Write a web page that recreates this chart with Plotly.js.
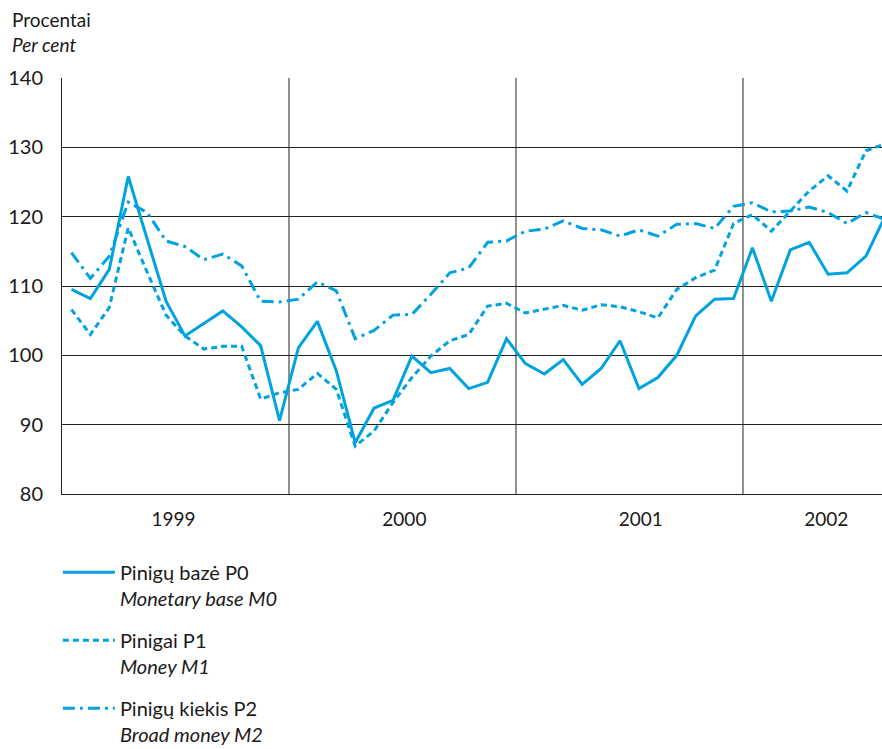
<!DOCTYPE html>
<html>
<head>
<meta charset="utf-8">
<script src="https://cdn.plot.ly/plotly-3.0.1.min.js"></script>
<style>html,body{margin:0;padding:0;background:#fff;}#chart{width:882px;height:749px;}</style>
</head>
<body>
<div id="chart"></div>
<script>
// Months Jan 1999 .. Aug 2002 (index of month, plotted at month centre)
const months = ['1999-01','1999-02','1999-03','1999-04','1999-05','1999-06','1999-07','1999-08','1999-09','1999-10','1999-11','1999-12',
  '2000-01','2000-02','2000-03','2000-04','2000-05','2000-06','2000-07','2000-08','2000-09','2000-10','2000-11','2000-12',
  '2001-01','2001-02','2001-03','2001-04','2001-05','2001-06','2001-07','2001-08','2001-09','2001-10','2001-11','2001-12',
  '2002-01','2002-02','2002-03','2002-04','2002-05','2002-06','2002-07','2002-08'];

const p0 = [109.5,108.2,112.4,125.8,116.8,107.8,102.8,104.6,106.4,104.1,101.4,90.6,
  101.1,104.9,97.8,87.4,92.4,93.5,99.9,97.5,98.1,95.2,96.1,102.4,
  98.8,97.3,99.4,95.8,98.1,102.1,95.2,96.8,100.0,105.7,108.1,108.2,
  115.5,107.8,115.2,116.3,111.7,111.9,114.3,120.0];

const p1 = [106.6,103.0,106.9,118.4,112.0,105.8,102.8,100.9,101.3,101.3,93.7,94.6,
  95.1,97.4,95.1,86.9,89.1,93.2,96.8,99.9,102.1,103.0,107.1,107.5,
  106.1,106.7,107.2,106.5,107.3,107.0,106.3,105.4,109.5,111.2,112.3,119.0,
  120.3,117.9,120.8,123.7,125.9,123.7,129.5,130.5];

const p2 = [114.8,111.1,114.3,122.1,120.6,116.5,115.7,113.8,114.6,112.9,107.8,107.7,
  108.1,110.6,109.3,102.4,103.6,105.8,105.9,108.8,111.9,112.6,116.3,116.5,
  117.9,118.2,119.4,118.3,118.1,117.2,118.1,117.2,118.9,119.0,118.3,121.5,
  122.0,120.7,120.8,121.4,120.6,119.0,120.6,119.6];

const yearLabels = ['1999','2000','2001','2002'];
const yearLabelPos = [5.9, 18.1, 30.6, 40.4];
const yearBoundaries = [12, 24, 36];

const seriesNames = [
  'Pinigų bazė P0<br><i>Monetary base M0</i>',
  'Pinigai P1<br><i>Money M1</i>',
  'Pinigų kiekis P2<br><i>Broad money M2</i>'
];

const xs = months.map((m, i) => i + 0.5);
const color = '#00a3e0';
const FONT = 'Lato, "Open Sans", sans-serif';

const traces = [
  {x: xs, y: p0, name: seriesNames[0], legendgroup: 'a', mode: 'lines', line: {color: color, width: 3}},
  {x: xs, y: p1, name: seriesNames[1], legendgroup: 'b', mode: 'lines', line: {color: color, width: 3, dash: '6px,4px'}},
  {x: xs, y: p2, name: seriesNames[2], legendgroup: 'c', mode: 'lines', line: {color: color, width: 3, dash: '12px,5px,3px,5px'}}
];

const layout = {
  width: 882, height: 749,
  margin: {l: 62, r: 0, t: 78, b: 255, autoexpand: false},
  paper_bgcolor: '#fff', plot_bgcolor: '#fff',
  font: {family: FONT, size: 19, color: '#1a1a1a'},
  showlegend: true,
  legend: {
    x: -0.005, xanchor: 'left', y: -0.141, yanchor: 'top',
    traceorder: 'grouped', tracegroupgap: 13,
    itemwidth: 52, valign: 'top',
    font: {family: FONT, size: 20, color: '#1a1a1a'},
    bgcolor: 'rgba(0,0,0,0)'
  },
  xaxis: {
    range: [0, 43.35],
    tickmode: 'array', tickvals: yearLabelPos, ticktext: yearLabels,
    showgrid: false, zeroline: false,
    showline: true, linecolor: '#222', linewidth: 1,
    ticks: '', ticklabelstandoff: 8,
    tickfont: {family: FONT, size: 19, color: '#1a1a1a'},
    fixedrange: true
  },
  yaxis: {
    range: [80, 140],
    tickmode: 'array', tickvals: [80, 90, 100, 110, 120, 130, 140],
    showgrid: true, gridcolor: '#222', gridwidth: 1,
    zeroline: false,
    showline: true, linecolor: '#222', linewidth: 1,
    ticks: '', ticklabelstandoff: 14,
    tickfont: {family: FONT, size: 20, color: '#1a1a1a'},
    fixedrange: true
  },
  shapes: yearBoundaries.map(v => ({
    type: 'line', xref: 'x', yref: 'paper', x0: v, x1: v, y0: 0, y1: 1,
    line: {color: '#222', width: 1}, layer: 'below'
  })),
  annotations: [
    {text: 'Procentai', xref: 'paper', yref: 'paper', x: -0.064, y: 1.14, xanchor: 'left', yanchor: 'middle', showarrow: false,
     font: {family: FONT, size: 19, color: '#1a1a1a'}},
    {text: '<i>Per cent</i>', xref: 'paper', yref: 'paper', x: -0.064, y: 1.08, xanchor: 'left', yanchor: 'middle', showarrow: false,
     font: {family: FONT, size: 19, color: '#1a1a1a'}}
  ]
};

Plotly.newPlot('chart', traces, layout, {displayModeBar: false, staticPlot: true});
</script>
</body>
</html>
